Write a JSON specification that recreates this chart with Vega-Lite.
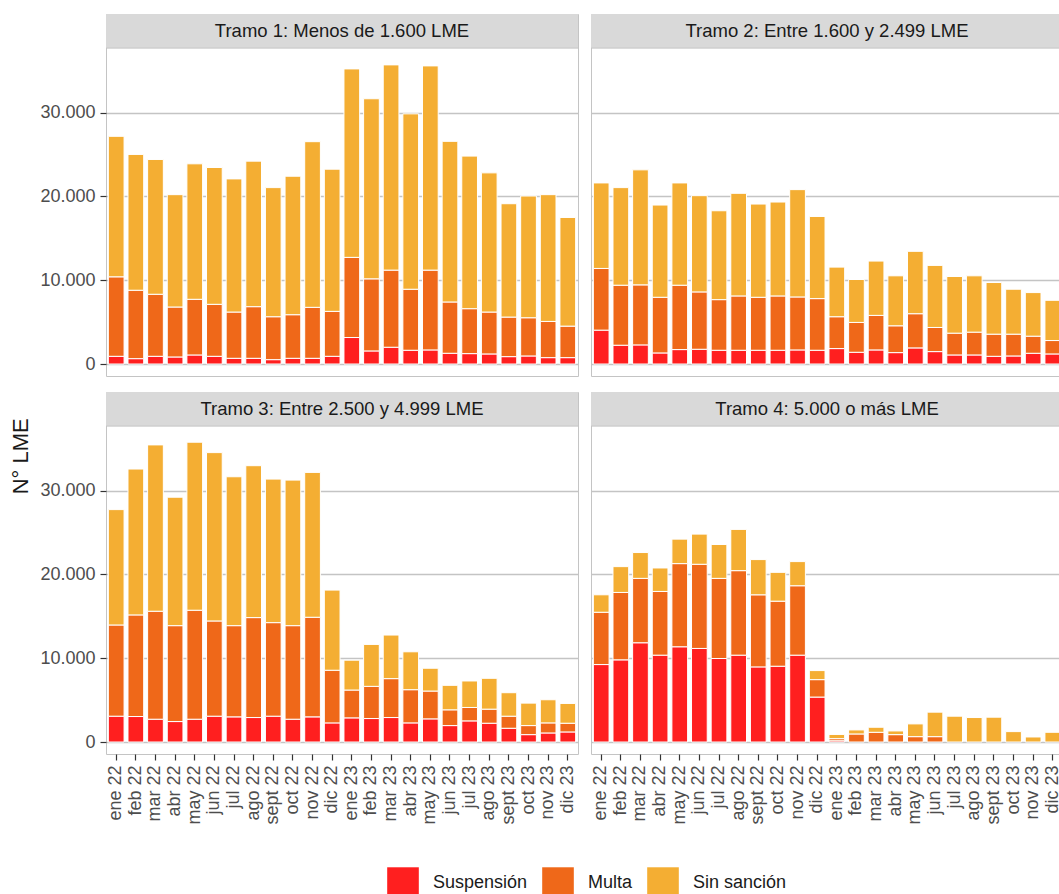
{
  "$schema": "https://vega.github.io/schema/vega-lite/v6.json",
  "padding": {"left": 10, "top": 13, "right": 0, "bottom": 0},
  "title": {"text": "N° LME", "orient": "left", "anchor": "middle", "fontSize": 22, "fontWeight": "normal", "color": "#1a1a1a", "font": "Liberation Sans", "offset": 6},
  "datasets": {
    "lme": [
      {"tramo":"Tramo 1: Menos de 1.600 LME","mes":"ene 22","sancion":"Suspensión","lme":920},
      {"tramo":"Tramo 1: Menos de 1.600 LME","mes":"ene 22","sancion":"Multa","lme":9480},
      {"tramo":"Tramo 1: Menos de 1.600 LME","mes":"ene 22","sancion":"Sin sanción","lme":16760},
      {"tramo":"Tramo 1: Menos de 1.600 LME","mes":"feb 22","sancion":"Suspensión","lme":640},
      {"tramo":"Tramo 1: Menos de 1.600 LME","mes":"feb 22","sancion":"Multa","lme":8160},
      {"tramo":"Tramo 1: Menos de 1.600 LME","mes":"feb 22","sancion":"Sin sanción","lme":16200},
      {"tramo":"Tramo 1: Menos de 1.600 LME","mes":"mar 22","sancion":"Suspensión","lme":920},
      {"tramo":"Tramo 1: Menos de 1.600 LME","mes":"mar 22","sancion":"Multa","lme":7400},
      {"tramo":"Tramo 1: Menos de 1.600 LME","mes":"mar 22","sancion":"Sin sanción","lme":16080},
      {"tramo":"Tramo 1: Menos de 1.600 LME","mes":"abr 22","sancion":"Suspensión","lme":840},
      {"tramo":"Tramo 1: Menos de 1.600 LME","mes":"abr 22","sancion":"Multa","lme":5960},
      {"tramo":"Tramo 1: Menos de 1.600 LME","mes":"abr 22","sancion":"Sin sanción","lme":13400},
      {"tramo":"Tramo 1: Menos de 1.600 LME","mes":"may 22","sancion":"Suspensión","lme":1080},
      {"tramo":"Tramo 1: Menos de 1.600 LME","mes":"may 22","sancion":"Multa","lme":6640},
      {"tramo":"Tramo 1: Menos de 1.600 LME","mes":"may 22","sancion":"Sin sanción","lme":16160},
      {"tramo":"Tramo 1: Menos de 1.600 LME","mes":"jun 22","sancion":"Suspensión","lme":920},
      {"tramo":"Tramo 1: Menos de 1.600 LME","mes":"jun 22","sancion":"Multa","lme":6200},
      {"tramo":"Tramo 1: Menos de 1.600 LME","mes":"jun 22","sancion":"Sin sanción","lme":16320},
      {"tramo":"Tramo 1: Menos de 1.600 LME","mes":"jul 22","sancion":"Suspensión","lme":680},
      {"tramo":"Tramo 1: Menos de 1.600 LME","mes":"jul 22","sancion":"Multa","lme":5520},
      {"tramo":"Tramo 1: Menos de 1.600 LME","mes":"jul 22","sancion":"Sin sanción","lme":15880},
      {"tramo":"Tramo 1: Menos de 1.600 LME","mes":"ago 22","sancion":"Suspensión","lme":680},
      {"tramo":"Tramo 1: Menos de 1.600 LME","mes":"ago 22","sancion":"Multa","lme":6160},
      {"tramo":"Tramo 1: Menos de 1.600 LME","mes":"ago 22","sancion":"Sin sanción","lme":17360},
      {"tramo":"Tramo 1: Menos de 1.600 LME","mes":"sept 22","sancion":"Suspensión","lme":520},
      {"tramo":"Tramo 1: Menos de 1.600 LME","mes":"sept 22","sancion":"Multa","lme":5120},
      {"tramo":"Tramo 1: Menos de 1.600 LME","mes":"sept 22","sancion":"Sin sanción","lme":15400},
      {"tramo":"Tramo 1: Menos de 1.600 LME","mes":"oct 22","sancion":"Suspensión","lme":680},
      {"tramo":"Tramo 1: Menos de 1.600 LME","mes":"oct 22","sancion":"Multa","lme":5200},
      {"tramo":"Tramo 1: Menos de 1.600 LME","mes":"oct 22","sancion":"Sin sanción","lme":16520},
      {"tramo":"Tramo 1: Menos de 1.600 LME","mes":"nov 22","sancion":"Suspensión","lme":680},
      {"tramo":"Tramo 1: Menos de 1.600 LME","mes":"nov 22","sancion":"Multa","lme":6080},
      {"tramo":"Tramo 1: Menos de 1.600 LME","mes":"nov 22","sancion":"Sin sanción","lme":19760},
      {"tramo":"Tramo 1: Menos de 1.600 LME","mes":"dic 22","sancion":"Suspensión","lme":920},
      {"tramo":"Tramo 1: Menos de 1.600 LME","mes":"dic 22","sancion":"Multa","lme":5360},
      {"tramo":"Tramo 1: Menos de 1.600 LME","mes":"dic 22","sancion":"Sin sanción","lme":16960},
      {"tramo":"Tramo 1: Menos de 1.600 LME","mes":"ene 23","sancion":"Suspensión","lme":3160},
      {"tramo":"Tramo 1: Menos de 1.600 LME","mes":"ene 23","sancion":"Multa","lme":9560},
      {"tramo":"Tramo 1: Menos de 1.600 LME","mes":"ene 23","sancion":"Sin sanción","lme":22480},
      {"tramo":"Tramo 1: Menos de 1.600 LME","mes":"feb 23","sancion":"Suspensión","lme":1560},
      {"tramo":"Tramo 1: Menos de 1.600 LME","mes":"feb 23","sancion":"Multa","lme":8600},
      {"tramo":"Tramo 1: Menos de 1.600 LME","mes":"feb 23","sancion":"Sin sanción","lme":21480},
      {"tramo":"Tramo 1: Menos de 1.600 LME","mes":"mar 23","sancion":"Suspensión","lme":2000},
      {"tramo":"Tramo 1: Menos de 1.600 LME","mes":"mar 23","sancion":"Multa","lme":9200},
      {"tramo":"Tramo 1: Menos de 1.600 LME","mes":"mar 23","sancion":"Sin sanción","lme":24480},
      {"tramo":"Tramo 1: Menos de 1.600 LME","mes":"abr 23","sancion":"Suspensión","lme":1640},
      {"tramo":"Tramo 1: Menos de 1.600 LME","mes":"abr 23","sancion":"Multa","lme":7280},
      {"tramo":"Tramo 1: Menos de 1.600 LME","mes":"abr 23","sancion":"Sin sanción","lme":20920},
      {"tramo":"Tramo 1: Menos de 1.600 LME","mes":"may 23","sancion":"Suspensión","lme":1680},
      {"tramo":"Tramo 1: Menos de 1.600 LME","mes":"may 23","sancion":"Multa","lme":9520},
      {"tramo":"Tramo 1: Menos de 1.600 LME","mes":"may 23","sancion":"Sin sanción","lme":24360},
      {"tramo":"Tramo 1: Menos de 1.600 LME","mes":"jun 23","sancion":"Suspensión","lme":1280},
      {"tramo":"Tramo 1: Menos de 1.600 LME","mes":"jun 23","sancion":"Multa","lme":6120},
      {"tramo":"Tramo 1: Menos de 1.600 LME","mes":"jun 23","sancion":"Sin sanción","lme":19160},
      {"tramo":"Tramo 1: Menos de 1.600 LME","mes":"jul 23","sancion":"Suspensión","lme":1240},
      {"tramo":"Tramo 1: Menos de 1.600 LME","mes":"jul 23","sancion":"Multa","lme":5360},
      {"tramo":"Tramo 1: Menos de 1.600 LME","mes":"jul 23","sancion":"Sin sanción","lme":18200},
      {"tramo":"Tramo 1: Menos de 1.600 LME","mes":"ago 23","sancion":"Suspensión","lme":1200},
      {"tramo":"Tramo 1: Menos de 1.600 LME","mes":"ago 23","sancion":"Multa","lme":5000},
      {"tramo":"Tramo 1: Menos de 1.600 LME","mes":"ago 23","sancion":"Sin sanción","lme":16600},
      {"tramo":"Tramo 1: Menos de 1.600 LME","mes":"sept 23","sancion":"Suspensión","lme":880},
      {"tramo":"Tramo 1: Menos de 1.600 LME","mes":"sept 23","sancion":"Multa","lme":4720},
      {"tramo":"Tramo 1: Menos de 1.600 LME","mes":"sept 23","sancion":"Sin sanción","lme":13520},
      {"tramo":"Tramo 1: Menos de 1.600 LME","mes":"oct 23","sancion":"Suspensión","lme":960},
      {"tramo":"Tramo 1: Menos de 1.600 LME","mes":"oct 23","sancion":"Multa","lme":4560},
      {"tramo":"Tramo 1: Menos de 1.600 LME","mes":"oct 23","sancion":"Sin sanción","lme":14520},
      {"tramo":"Tramo 1: Menos de 1.600 LME","mes":"nov 23","sancion":"Suspensión","lme":760},
      {"tramo":"Tramo 1: Menos de 1.600 LME","mes":"nov 23","sancion":"Multa","lme":4320},
      {"tramo":"Tramo 1: Menos de 1.600 LME","mes":"nov 23","sancion":"Sin sanción","lme":15120},
      {"tramo":"Tramo 1: Menos de 1.600 LME","mes":"dic 23","sancion":"Suspensión","lme":760},
      {"tramo":"Tramo 1: Menos de 1.600 LME","mes":"dic 23","sancion":"Multa","lme":3760},
      {"tramo":"Tramo 1: Menos de 1.600 LME","mes":"dic 23","sancion":"Sin sanción","lme":12960},

      {"tramo":"Tramo 2: Entre 1.600 y 2.499 LME","mes":"ene 22","sancion":"Suspensión","lme":4040},
      {"tramo":"Tramo 2: Entre 1.600 y 2.499 LME","mes":"ene 22","sancion":"Multa","lme":7360},
      {"tramo":"Tramo 2: Entre 1.600 y 2.499 LME","mes":"ene 22","sancion":"Sin sanción","lme":10200},
      {"tramo":"Tramo 2: Entre 1.600 y 2.499 LME","mes":"feb 22","sancion":"Suspensión","lme":2240},
      {"tramo":"Tramo 2: Entre 1.600 y 2.499 LME","mes":"feb 22","sancion":"Multa","lme":7160},
      {"tramo":"Tramo 2: Entre 1.600 y 2.499 LME","mes":"feb 22","sancion":"Sin sanción","lme":11640},
      {"tramo":"Tramo 2: Entre 1.600 y 2.499 LME","mes":"mar 22","sancion":"Suspensión","lme":2280},
      {"tramo":"Tramo 2: Entre 1.600 y 2.499 LME","mes":"mar 22","sancion":"Multa","lme":7160},
      {"tramo":"Tramo 2: Entre 1.600 y 2.499 LME","mes":"mar 22","sancion":"Sin sanción","lme":13720},
      {"tramo":"Tramo 2: Entre 1.600 y 2.499 LME","mes":"abr 22","sancion":"Suspensión","lme":1320},
      {"tramo":"Tramo 2: Entre 1.600 y 2.499 LME","mes":"abr 22","sancion":"Multa","lme":6640},
      {"tramo":"Tramo 2: Entre 1.600 y 2.499 LME","mes":"abr 22","sancion":"Sin sanción","lme":11000},
      {"tramo":"Tramo 2: Entre 1.600 y 2.499 LME","mes":"may 22","sancion":"Suspensión","lme":1720},
      {"tramo":"Tramo 2: Entre 1.600 y 2.499 LME","mes":"may 22","sancion":"Multa","lme":7680},
      {"tramo":"Tramo 2: Entre 1.600 y 2.499 LME","mes":"may 22","sancion":"Sin sanción","lme":12200},
      {"tramo":"Tramo 2: Entre 1.600 y 2.499 LME","mes":"jun 22","sancion":"Suspensión","lme":1760},
      {"tramo":"Tramo 2: Entre 1.600 y 2.499 LME","mes":"jun 22","sancion":"Multa","lme":6840},
      {"tramo":"Tramo 2: Entre 1.600 y 2.499 LME","mes":"jun 22","sancion":"Sin sanción","lme":11480},
      {"tramo":"Tramo 2: Entre 1.600 y 2.499 LME","mes":"jul 22","sancion":"Suspensión","lme":1640},
      {"tramo":"Tramo 2: Entre 1.600 y 2.499 LME","mes":"jul 22","sancion":"Multa","lme":6040},
      {"tramo":"Tramo 2: Entre 1.600 y 2.499 LME","mes":"jul 22","sancion":"Sin sanción","lme":10600},
      {"tramo":"Tramo 2: Entre 1.600 y 2.499 LME","mes":"ago 22","sancion":"Suspensión","lme":1640},
      {"tramo":"Tramo 2: Entre 1.600 y 2.499 LME","mes":"ago 22","sancion":"Multa","lme":6480},
      {"tramo":"Tramo 2: Entre 1.600 y 2.499 LME","mes":"ago 22","sancion":"Sin sanción","lme":12240},
      {"tramo":"Tramo 2: Entre 1.600 y 2.499 LME","mes":"sept 22","sancion":"Suspensión","lme":1640},
      {"tramo":"Tramo 2: Entre 1.600 y 2.499 LME","mes":"sept 22","sancion":"Multa","lme":6320},
      {"tramo":"Tramo 2: Entre 1.600 y 2.499 LME","mes":"sept 22","sancion":"Sin sanción","lme":11120},
      {"tramo":"Tramo 2: Entre 1.600 y 2.499 LME","mes":"oct 22","sancion":"Suspensión","lme":1640},
      {"tramo":"Tramo 2: Entre 1.600 y 2.499 LME","mes":"oct 22","sancion":"Multa","lme":6480},
      {"tramo":"Tramo 2: Entre 1.600 y 2.499 LME","mes":"oct 22","sancion":"Sin sanción","lme":11200},
      {"tramo":"Tramo 2: Entre 1.600 y 2.499 LME","mes":"nov 22","sancion":"Suspensión","lme":1680},
      {"tramo":"Tramo 2: Entre 1.600 y 2.499 LME","mes":"nov 22","sancion":"Multa","lme":6320},
      {"tramo":"Tramo 2: Entre 1.600 y 2.499 LME","mes":"nov 22","sancion":"Sin sanción","lme":12800},
      {"tramo":"Tramo 2: Entre 1.600 y 2.499 LME","mes":"dic 22","sancion":"Suspensión","lme":1640},
      {"tramo":"Tramo 2: Entre 1.600 y 2.499 LME","mes":"dic 22","sancion":"Multa","lme":6160},
      {"tramo":"Tramo 2: Entre 1.600 y 2.499 LME","mes":"dic 22","sancion":"Sin sanción","lme":9800},
      {"tramo":"Tramo 2: Entre 1.600 y 2.499 LME","mes":"ene 23","sancion":"Suspensión","lme":1840},
      {"tramo":"Tramo 2: Entre 1.600 y 2.499 LME","mes":"ene 23","sancion":"Multa","lme":3800},
      {"tramo":"Tramo 2: Entre 1.600 y 2.499 LME","mes":"ene 23","sancion":"Sin sanción","lme":5920},
      {"tramo":"Tramo 2: Entre 1.600 y 2.499 LME","mes":"feb 23","sancion":"Suspensión","lme":1400},
      {"tramo":"Tramo 2: Entre 1.600 y 2.499 LME","mes":"feb 23","sancion":"Multa","lme":3560},
      {"tramo":"Tramo 2: Entre 1.600 y 2.499 LME","mes":"feb 23","sancion":"Sin sanción","lme":5120},
      {"tramo":"Tramo 2: Entre 1.600 y 2.499 LME","mes":"mar 23","sancion":"Suspensión","lme":1680},
      {"tramo":"Tramo 2: Entre 1.600 y 2.499 LME","mes":"mar 23","sancion":"Multa","lme":4120},
      {"tramo":"Tramo 2: Entre 1.600 y 2.499 LME","mes":"mar 23","sancion":"Sin sanción","lme":6480},
      {"tramo":"Tramo 2: Entre 1.600 y 2.499 LME","mes":"abr 23","sancion":"Suspensión","lme":1360},
      {"tramo":"Tramo 2: Entre 1.600 y 2.499 LME","mes":"abr 23","sancion":"Multa","lme":3200},
      {"tramo":"Tramo 2: Entre 1.600 y 2.499 LME","mes":"abr 23","sancion":"Sin sanción","lme":5960},
      {"tramo":"Tramo 2: Entre 1.600 y 2.499 LME","mes":"may 23","sancion":"Suspensión","lme":1920},
      {"tramo":"Tramo 2: Entre 1.600 y 2.499 LME","mes":"may 23","sancion":"Multa","lme":4080},
      {"tramo":"Tramo 2: Entre 1.600 y 2.499 LME","mes":"may 23","sancion":"Sin sanción","lme":7440},
      {"tramo":"Tramo 2: Entre 1.600 y 2.499 LME","mes":"jun 23","sancion":"Suspensión","lme":1480},
      {"tramo":"Tramo 2: Entre 1.600 y 2.499 LME","mes":"jun 23","sancion":"Multa","lme":2880},
      {"tramo":"Tramo 2: Entre 1.600 y 2.499 LME","mes":"jun 23","sancion":"Sin sanción","lme":7400},
      {"tramo":"Tramo 2: Entre 1.600 y 2.499 LME","mes":"jul 23","sancion":"Suspensión","lme":1080},
      {"tramo":"Tramo 2: Entre 1.600 y 2.499 LME","mes":"jul 23","sancion":"Multa","lme":2600},
      {"tramo":"Tramo 2: Entre 1.600 y 2.499 LME","mes":"jul 23","sancion":"Sin sanción","lme":6760},
      {"tramo":"Tramo 2: Entre 1.600 y 2.499 LME","mes":"ago 23","sancion":"Suspensión","lme":1080},
      {"tramo":"Tramo 2: Entre 1.600 y 2.499 LME","mes":"ago 23","sancion":"Multa","lme":2720},
      {"tramo":"Tramo 2: Entre 1.600 y 2.499 LME","mes":"ago 23","sancion":"Sin sanción","lme":6720},
      {"tramo":"Tramo 2: Entre 1.600 y 2.499 LME","mes":"sept 23","sancion":"Suspensión","lme":920},
      {"tramo":"Tramo 2: Entre 1.600 y 2.499 LME","mes":"sept 23","sancion":"Multa","lme":2640},
      {"tramo":"Tramo 2: Entre 1.600 y 2.499 LME","mes":"sept 23","sancion":"Sin sanción","lme":6160},
      {"tramo":"Tramo 2: Entre 1.600 y 2.499 LME","mes":"oct 23","sancion":"Suspensión","lme":960},
      {"tramo":"Tramo 2: Entre 1.600 y 2.499 LME","mes":"oct 23","sancion":"Multa","lme":2600},
      {"tramo":"Tramo 2: Entre 1.600 y 2.499 LME","mes":"oct 23","sancion":"Sin sanción","lme":5360},
      {"tramo":"Tramo 2: Entre 1.600 y 2.499 LME","mes":"nov 23","sancion":"Suspensión","lme":1280},
      {"tramo":"Tramo 2: Entre 1.600 y 2.499 LME","mes":"nov 23","sancion":"Multa","lme":2040},
      {"tramo":"Tramo 2: Entre 1.600 y 2.499 LME","mes":"nov 23","sancion":"Sin sanción","lme":5200},
      {"tramo":"Tramo 2: Entre 1.600 y 2.499 LME","mes":"dic 23","sancion":"Suspensión","lme":1200},
      {"tramo":"Tramo 2: Entre 1.600 y 2.499 LME","mes":"dic 23","sancion":"Multa","lme":1600},
      {"tramo":"Tramo 2: Entre 1.600 y 2.499 LME","mes":"dic 23","sancion":"Sin sanción","lme":4800},

      {"tramo":"Tramo 3: Entre 2.500 y 4.999 LME","mes":"ene 22","sancion":"Suspensión","lme":3080},
      {"tramo":"Tramo 3: Entre 2.500 y 4.999 LME","mes":"ene 22","sancion":"Multa","lme":10880},
      {"tramo":"Tramo 3: Entre 2.500 y 4.999 LME","mes":"ene 22","sancion":"Sin sanción","lme":13760},
      {"tramo":"Tramo 3: Entre 2.500 y 4.999 LME","mes":"feb 22","sancion":"Suspensión","lme":3040},
      {"tramo":"Tramo 3: Entre 2.500 y 4.999 LME","mes":"feb 22","sancion":"Multa","lme":12120},
      {"tramo":"Tramo 3: Entre 2.500 y 4.999 LME","mes":"feb 22","sancion":"Sin sanción","lme":17400},
      {"tramo":"Tramo 3: Entre 2.500 y 4.999 LME","mes":"mar 22","sancion":"Suspensión","lme":2720},
      {"tramo":"Tramo 3: Entre 2.500 y 4.999 LME","mes":"mar 22","sancion":"Multa","lme":12880},
      {"tramo":"Tramo 3: Entre 2.500 y 4.999 LME","mes":"mar 22","sancion":"Sin sanción","lme":19840},
      {"tramo":"Tramo 3: Entre 2.500 y 4.999 LME","mes":"abr 22","sancion":"Suspensión","lme":2440},
      {"tramo":"Tramo 3: Entre 2.500 y 4.999 LME","mes":"abr 22","sancion":"Multa","lme":11440},
      {"tramo":"Tramo 3: Entre 2.500 y 4.999 LME","mes":"abr 22","sancion":"Sin sanción","lme":15320},
      {"tramo":"Tramo 3: Entre 2.500 y 4.999 LME","mes":"may 22","sancion":"Suspensión","lme":2720},
      {"tramo":"Tramo 3: Entre 2.500 y 4.999 LME","mes":"may 22","sancion":"Multa","lme":13000},
      {"tramo":"Tramo 3: Entre 2.500 y 4.999 LME","mes":"may 22","sancion":"Sin sanción","lme":20040},
      {"tramo":"Tramo 3: Entre 2.500 y 4.999 LME","mes":"jun 22","sancion":"Suspensión","lme":3080},
      {"tramo":"Tramo 3: Entre 2.500 y 4.999 LME","mes":"jun 22","sancion":"Multa","lme":11360},
      {"tramo":"Tramo 3: Entre 2.500 y 4.999 LME","mes":"jun 22","sancion":"Sin sanción","lme":20080},
      {"tramo":"Tramo 3: Entre 2.500 y 4.999 LME","mes":"jul 22","sancion":"Suspensión","lme":3000},
      {"tramo":"Tramo 3: Entre 2.500 y 4.999 LME","mes":"jul 22","sancion":"Multa","lme":10880},
      {"tramo":"Tramo 3: Entre 2.500 y 4.999 LME","mes":"jul 22","sancion":"Sin sanción","lme":17760},
      {"tramo":"Tramo 3: Entre 2.500 y 4.999 LME","mes":"ago 22","sancion":"Suspensión","lme":2920},
      {"tramo":"Tramo 3: Entre 2.500 y 4.999 LME","mes":"ago 22","sancion":"Multa","lme":11920},
      {"tramo":"Tramo 3: Entre 2.500 y 4.999 LME","mes":"ago 22","sancion":"Sin sanción","lme":18120},
      {"tramo":"Tramo 3: Entre 2.500 y 4.999 LME","mes":"sept 22","sancion":"Suspensión","lme":3080},
      {"tramo":"Tramo 3: Entre 2.500 y 4.999 LME","mes":"sept 22","sancion":"Multa","lme":11160},
      {"tramo":"Tramo 3: Entre 2.500 y 4.999 LME","mes":"sept 22","sancion":"Sin sanción","lme":17120},
      {"tramo":"Tramo 3: Entre 2.500 y 4.999 LME","mes":"oct 22","sancion":"Suspensión","lme":2720},
      {"tramo":"Tramo 3: Entre 2.500 y 4.999 LME","mes":"oct 22","sancion":"Multa","lme":11160},
      {"tramo":"Tramo 3: Entre 2.500 y 4.999 LME","mes":"oct 22","sancion":"Sin sanción","lme":17360},
      {"tramo":"Tramo 3: Entre 2.500 y 4.999 LME","mes":"nov 22","sancion":"Suspensión","lme":3000},
      {"tramo":"Tramo 3: Entre 2.500 y 4.999 LME","mes":"nov 22","sancion":"Multa","lme":11880},
      {"tramo":"Tramo 3: Entre 2.500 y 4.999 LME","mes":"nov 22","sancion":"Sin sanción","lme":17280},
      {"tramo":"Tramo 3: Entre 2.500 y 4.999 LME","mes":"dic 22","sancion":"Suspensión","lme":2280},
      {"tramo":"Tramo 3: Entre 2.500 y 4.999 LME","mes":"dic 22","sancion":"Multa","lme":6280},
      {"tramo":"Tramo 3: Entre 2.500 y 4.999 LME","mes":"dic 22","sancion":"Sin sanción","lme":9560},
      {"tramo":"Tramo 3: Entre 2.500 y 4.999 LME","mes":"ene 23","sancion":"Suspensión","lme":2880},
      {"tramo":"Tramo 3: Entre 2.500 y 4.999 LME","mes":"ene 23","sancion":"Multa","lme":3320},
      {"tramo":"Tramo 3: Entre 2.500 y 4.999 LME","mes":"ene 23","sancion":"Sin sanción","lme":3560},
      {"tramo":"Tramo 3: Entre 2.500 y 4.999 LME","mes":"feb 23","sancion":"Suspensión","lme":2800},
      {"tramo":"Tramo 3: Entre 2.500 y 4.999 LME","mes":"feb 23","sancion":"Multa","lme":3840},
      {"tramo":"Tramo 3: Entre 2.500 y 4.999 LME","mes":"feb 23","sancion":"Sin sanción","lme":5000},
      {"tramo":"Tramo 3: Entre 2.500 y 4.999 LME","mes":"mar 23","sancion":"Suspensión","lme":2920},
      {"tramo":"Tramo 3: Entre 2.500 y 4.999 LME","mes":"mar 23","sancion":"Multa","lme":4640},
      {"tramo":"Tramo 3: Entre 2.500 y 4.999 LME","mes":"mar 23","sancion":"Sin sanción","lme":5200},
      {"tramo":"Tramo 3: Entre 2.500 y 4.999 LME","mes":"abr 23","sancion":"Suspensión","lme":2280},
      {"tramo":"Tramo 3: Entre 2.500 y 4.999 LME","mes":"abr 23","sancion":"Multa","lme":3960},
      {"tramo":"Tramo 3: Entre 2.500 y 4.999 LME","mes":"abr 23","sancion":"Sin sanción","lme":4520},
      {"tramo":"Tramo 3: Entre 2.500 y 4.999 LME","mes":"may 23","sancion":"Suspensión","lme":2760},
      {"tramo":"Tramo 3: Entre 2.500 y 4.999 LME","mes":"may 23","sancion":"Multa","lme":3320},
      {"tramo":"Tramo 3: Entre 2.500 y 4.999 LME","mes":"may 23","sancion":"Sin sanción","lme":2720},
      {"tramo":"Tramo 3: Entre 2.500 y 4.999 LME","mes":"jun 23","sancion":"Suspensión","lme":1960},
      {"tramo":"Tramo 3: Entre 2.500 y 4.999 LME","mes":"jun 23","sancion":"Multa","lme":1880},
      {"tramo":"Tramo 3: Entre 2.500 y 4.999 LME","mes":"jun 23","sancion":"Sin sanción","lme":2920},
      {"tramo":"Tramo 3: Entre 2.500 y 4.999 LME","mes":"jul 23","sancion":"Suspensión","lme":2520},
      {"tramo":"Tramo 3: Entre 2.500 y 4.999 LME","mes":"jul 23","sancion":"Multa","lme":1600},
      {"tramo":"Tramo 3: Entre 2.500 y 4.999 LME","mes":"jul 23","sancion":"Sin sanción","lme":3160},
      {"tramo":"Tramo 3: Entre 2.500 y 4.999 LME","mes":"ago 23","sancion":"Suspensión","lme":2240},
      {"tramo":"Tramo 3: Entre 2.500 y 4.999 LME","mes":"ago 23","sancion":"Multa","lme":1680},
      {"tramo":"Tramo 3: Entre 2.500 y 4.999 LME","mes":"ago 23","sancion":"Sin sanción","lme":3680},
      {"tramo":"Tramo 3: Entre 2.500 y 4.999 LME","mes":"sept 23","sancion":"Suspensión","lme":1640},
      {"tramo":"Tramo 3: Entre 2.500 y 4.999 LME","mes":"sept 23","sancion":"Multa","lme":1440},
      {"tramo":"Tramo 3: Entre 2.500 y 4.999 LME","mes":"sept 23","sancion":"Sin sanción","lme":2800},
      {"tramo":"Tramo 3: Entre 2.500 y 4.999 LME","mes":"oct 23","sancion":"Suspensión","lme":880},
      {"tramo":"Tramo 3: Entre 2.500 y 4.999 LME","mes":"oct 23","sancion":"Multa","lme":1080},
      {"tramo":"Tramo 3: Entre 2.500 y 4.999 LME","mes":"oct 23","sancion":"Sin sanción","lme":2680},
      {"tramo":"Tramo 3: Entre 2.500 y 4.999 LME","mes":"nov 23","sancion":"Suspensión","lme":1080},
      {"tramo":"Tramo 3: Entre 2.500 y 4.999 LME","mes":"nov 23","sancion":"Multa","lme":1200},
      {"tramo":"Tramo 3: Entre 2.500 y 4.999 LME","mes":"nov 23","sancion":"Sin sanción","lme":2760},
      {"tramo":"Tramo 3: Entre 2.500 y 4.999 LME","mes":"dic 23","sancion":"Suspensión","lme":1200},
      {"tramo":"Tramo 3: Entre 2.500 y 4.999 LME","mes":"dic 23","sancion":"Multa","lme":1040},
      {"tramo":"Tramo 3: Entre 2.500 y 4.999 LME","mes":"dic 23","sancion":"Sin sanción","lme":2360},

      {"tramo":"Tramo 4: 5.000 o más LME","mes":"ene 22","sancion":"Suspensión","lme":9240},
      {"tramo":"Tramo 4: 5.000 o más LME","mes":"ene 22","sancion":"Multa","lme":6240},
      {"tramo":"Tramo 4: 5.000 o más LME","mes":"ene 22","sancion":"Sin sanción","lme":2080},
      {"tramo":"Tramo 4: 5.000 o más LME","mes":"feb 22","sancion":"Suspensión","lme":9800},
      {"tramo":"Tramo 4: 5.000 o más LME","mes":"feb 22","sancion":"Multa","lme":8040},
      {"tramo":"Tramo 4: 5.000 o más LME","mes":"feb 22","sancion":"Sin sanción","lme":3080},
      {"tramo":"Tramo 4: 5.000 o más LME","mes":"mar 22","sancion":"Suspensión","lme":11840},
      {"tramo":"Tramo 4: 5.000 o más LME","mes":"mar 22","sancion":"Multa","lme":7680},
      {"tramo":"Tramo 4: 5.000 o más LME","mes":"mar 22","sancion":"Sin sanción","lme":3080},
      {"tramo":"Tramo 4: 5.000 o más LME","mes":"abr 22","sancion":"Suspensión","lme":10360},
      {"tramo":"Tramo 4: 5.000 o más LME","mes":"abr 22","sancion":"Multa","lme":7600},
      {"tramo":"Tramo 4: 5.000 o más LME","mes":"abr 22","sancion":"Sin sanción","lme":2800},
      {"tramo":"Tramo 4: 5.000 o más LME","mes":"may 22","sancion":"Suspensión","lme":11360},
      {"tramo":"Tramo 4: 5.000 o más LME","mes":"may 22","sancion":"Multa","lme":9920},
      {"tramo":"Tramo 4: 5.000 o más LME","mes":"may 22","sancion":"Sin sanción","lme":2920},
      {"tramo":"Tramo 4: 5.000 o más LME","mes":"jun 22","sancion":"Suspensión","lme":11160},
      {"tramo":"Tramo 4: 5.000 o más LME","mes":"jun 22","sancion":"Multa","lme":10040},
      {"tramo":"Tramo 4: 5.000 o más LME","mes":"jun 22","sancion":"Sin sanción","lme":3600},
      {"tramo":"Tramo 4: 5.000 o más LME","mes":"jul 22","sancion":"Suspensión","lme":9960},
      {"tramo":"Tramo 4: 5.000 o más LME","mes":"jul 22","sancion":"Multa","lme":9560},
      {"tramo":"Tramo 4: 5.000 o más LME","mes":"jul 22","sancion":"Sin sanción","lme":4040},
      {"tramo":"Tramo 4: 5.000 o más LME","mes":"ago 22","sancion":"Suspensión","lme":10360},
      {"tramo":"Tramo 4: 5.000 o más LME","mes":"ago 22","sancion":"Multa","lme":10080},
      {"tramo":"Tramo 4: 5.000 o más LME","mes":"ago 22","sancion":"Sin sanción","lme":4920},
      {"tramo":"Tramo 4: 5.000 o más LME","mes":"sept 22","sancion":"Suspensión","lme":8960},
      {"tramo":"Tramo 4: 5.000 o más LME","mes":"sept 22","sancion":"Multa","lme":8600},
      {"tramo":"Tramo 4: 5.000 o más LME","mes":"sept 22","sancion":"Sin sanción","lme":4200},
      {"tramo":"Tramo 4: 5.000 o más LME","mes":"oct 22","sancion":"Suspensión","lme":9040},
      {"tramo":"Tramo 4: 5.000 o más LME","mes":"oct 22","sancion":"Multa","lme":7760},
      {"tramo":"Tramo 4: 5.000 o más LME","mes":"oct 22","sancion":"Sin sanción","lme":3440},
      {"tramo":"Tramo 4: 5.000 o más LME","mes":"nov 22","sancion":"Suspensión","lme":10360},
      {"tramo":"Tramo 4: 5.000 o más LME","mes":"nov 22","sancion":"Multa","lme":8280},
      {"tramo":"Tramo 4: 5.000 o más LME","mes":"nov 22","sancion":"Sin sanción","lme":2880},
      {"tramo":"Tramo 4: 5.000 o más LME","mes":"dic 22","sancion":"Suspensión","lme":5360},
      {"tramo":"Tramo 4: 5.000 o más LME","mes":"dic 22","sancion":"Multa","lme":2080},
      {"tramo":"Tramo 4: 5.000 o más LME","mes":"dic 22","sancion":"Sin sanción","lme":1080},
      {"tramo":"Tramo 4: 5.000 o más LME","mes":"ene 23","sancion":"Suspensión","lme":150},
      {"tramo":"Tramo 4: 5.000 o más LME","mes":"ene 23","sancion":"Multa","lme":250},
      {"tramo":"Tramo 4: 5.000 o más LME","mes":"ene 23","sancion":"Sin sanción","lme":500},
      {"tramo":"Tramo 4: 5.000 o más LME","mes":"feb 23","sancion":"Multa","lme":960},
      {"tramo":"Tramo 4: 5.000 o más LME","mes":"feb 23","sancion":"Sin sanción","lme":480},
      {"tramo":"Tramo 4: 5.000 o más LME","mes":"mar 23","sancion":"Multa","lme":1160},
      {"tramo":"Tramo 4: 5.000 o más LME","mes":"mar 23","sancion":"Sin sanción","lme":600},
      {"tramo":"Tramo 4: 5.000 o más LME","mes":"abr 23","sancion":"Multa","lme":880},
      {"tramo":"Tramo 4: 5.000 o más LME","mes":"abr 23","sancion":"Sin sanción","lme":440},
      {"tramo":"Tramo 4: 5.000 o más LME","mes":"may 23","sancion":"Multa","lme":640},
      {"tramo":"Tramo 4: 5.000 o más LME","mes":"may 23","sancion":"Sin sanción","lme":1520},
      {"tramo":"Tramo 4: 5.000 o más LME","mes":"jun 23","sancion":"Multa","lme":640},
      {"tramo":"Tramo 4: 5.000 o más LME","mes":"jun 23","sancion":"Sin sanción","lme":2920},
      {"tramo":"Tramo 4: 5.000 o más LME","mes":"jul 23","sancion":"Sin sanción","lme":3080},
      {"tramo":"Tramo 4: 5.000 o más LME","mes":"ago 23","sancion":"Sin sanción","lme":2920},
      {"tramo":"Tramo 4: 5.000 o más LME","mes":"sept 23","sancion":"Sin sanción","lme":2960},
      {"tramo":"Tramo 4: 5.000 o más LME","mes":"oct 23","sancion":"Sin sanción","lme":1240},
      {"tramo":"Tramo 4: 5.000 o más LME","mes":"nov 23","sancion":"Sin sanción","lme":600},
      {"tramo":"Tramo 4: 5.000 o más LME","mes":"dic 23","sancion":"Sin sanción","lme":1160}
    ]
  },
  "data": {"name": "lme"},
  "columns": 2,
  "spacing": {"row": 14, "column": 11},
  "concat": [
    {
      "width": 472, "height": 362,
      "transform": [{"filter": "datum.tramo === 'Tramo 1: Menos de 1.600 LME'"}],
      "layer": [
        {
          "transform": [{"calculate": "indexof(['Suspensión','Multa','Sin sanción'], datum.sancion)", "as": "orden"}],
          "mark": {"type": "bar", "stroke": "white", "strokeWidth": 1},
          "encoding": {
            "x": {"field": "mes", "type": "nominal", "sort": null, "title": null, "scale": {"paddingInner": 0.2, "paddingOuter": 0.12},
                  "axis": {"labels": false, "ticks": false, "domain": false, "grid": false}},
            "y": {"field": "lme", "type": "quantitative", "stack": "zero", "title": null, "scale": {"domain": [-1430, 41750], "nice": false, "zero": false},
                  "axis": {"values": [0, 10000, 20000, 30000], "labelExpr": "replace(format(datum.value, ','), ',', '.')"}},
            "color": {"field": "sancion", "type": "nominal", "title": null, "sort": ["Suspensión", "Multa", "Sin sanción"],
                      "scale": {"domain": ["Suspensión", "Multa", "Sin sanción"], "range": ["#FF1F1F", "#EF6819", "#F4AE33"]}},
            "order": {"field": "orden", "type": "quantitative", "sort": "ascending"}
          }
        },
        {
          "transform": [{"aggregate": [{"op": "count", "as": "n"}], "groupby": ["tramo"]}],
          "layer": [
            {"mark": {"type": "rect", "color": "#d9d9d9"}, "encoding": {"y": {"datum": 37680, "type": "quantitative"}, "y2": {"datum": 41750}}},
            {"mark": {"type": "rule", "color": "#c4c4c4", "strokeWidth": 1}, "encoding": {"y": {"datum": 37680, "type": "quantitative"}}},
            {"mark": {"type": "text", "fontSize": 18.5, "color": "#1a1a1a", "baseline": "middle"}, "encoding": {"y": {"datum": 39715, "type": "quantitative"}, "text": {"field": "tramo"}}}
          ]
        }
      ]
    },
    {
      "width": 472, "height": 362,
      "transform": [{"filter": "datum.tramo === 'Tramo 2: Entre 1.600 y 2.499 LME'"}],
      "layer": [
        {
          "transform": [{"calculate": "indexof(['Suspensión','Multa','Sin sanción'], datum.sancion)", "as": "orden"}],
          "mark": {"type": "bar", "stroke": "white", "strokeWidth": 1},
          "encoding": {
            "x": {"field": "mes", "type": "nominal", "sort": null, "title": null, "scale": {"paddingInner": 0.2, "paddingOuter": 0.12},
                  "axis": {"labels": false, "ticks": false, "domain": false, "grid": false}},
            "y": {"field": "lme", "type": "quantitative", "stack": "zero", "title": null, "scale": {"domain": [-1430, 41750], "nice": false, "zero": false},
                  "axis": {"values": [0, 10000, 20000, 30000], "labels": false, "ticks": false}},
            "color": {"field": "sancion", "type": "nominal", "title": null, "sort": ["Suspensión", "Multa", "Sin sanción"],
                      "scale": {"domain": ["Suspensión", "Multa", "Sin sanción"], "range": ["#FF1F1F", "#EF6819", "#F4AE33"]}},
            "order": {"field": "orden", "type": "quantitative", "sort": "ascending"}
          }
        },
        {
          "transform": [{"aggregate": [{"op": "count", "as": "n"}], "groupby": ["tramo"]}],
          "layer": [
            {"mark": {"type": "rect", "color": "#d9d9d9"}, "encoding": {"y": {"datum": 37680, "type": "quantitative"}, "y2": {"datum": 41750}}},
            {"mark": {"type": "rule", "color": "#c4c4c4", "strokeWidth": 1}, "encoding": {"y": {"datum": 37680, "type": "quantitative"}}},
            {"mark": {"type": "text", "fontSize": 18.5, "color": "#1a1a1a", "baseline": "middle"}, "encoding": {"y": {"datum": 39715, "type": "quantitative"}, "text": {"field": "tramo"}}}
          ]
        }
      ]
    },
    {
      "width": 472, "height": 362,
      "transform": [{"filter": "datum.tramo === 'Tramo 3: Entre 2.500 y 4.999 LME'"}],
      "layer": [
        {
          "transform": [{"calculate": "indexof(['Suspensión','Multa','Sin sanción'], datum.sancion)", "as": "orden"}],
          "mark": {"type": "bar", "stroke": "white", "strokeWidth": 1},
          "encoding": {
            "x": {"field": "mes", "type": "nominal", "sort": null, "title": null, "scale": {"paddingInner": 0.2, "paddingOuter": 0.12}},
            "y": {"field": "lme", "type": "quantitative", "stack": "zero", "title": null, "scale": {"domain": [-1430, 41750], "nice": false, "zero": false},
                  "axis": {"values": [0, 10000, 20000, 30000], "labelExpr": "replace(format(datum.value, ','), ',', '.')"}},
            "color": {"field": "sancion", "type": "nominal", "title": null, "sort": ["Suspensión", "Multa", "Sin sanción"],
                      "scale": {"domain": ["Suspensión", "Multa", "Sin sanción"], "range": ["#FF1F1F", "#EF6819", "#F4AE33"]}},
            "order": {"field": "orden", "type": "quantitative", "sort": "ascending"}
          }
        },
        {
          "transform": [{"aggregate": [{"op": "count", "as": "n"}], "groupby": ["tramo"]}],
          "layer": [
            {"mark": {"type": "rect", "color": "#d9d9d9"}, "encoding": {"y": {"datum": 37680, "type": "quantitative"}, "y2": {"datum": 41750}}},
            {"mark": {"type": "rule", "color": "#c4c4c4", "strokeWidth": 1}, "encoding": {"y": {"datum": 37680, "type": "quantitative"}}},
            {"mark": {"type": "text", "fontSize": 18.5, "color": "#1a1a1a", "baseline": "middle"}, "encoding": {"y": {"datum": 39715, "type": "quantitative"}, "text": {"field": "tramo"}}}
          ]
        }
      ]
    },
    {
      "width": 472, "height": 362,
      "transform": [{"filter": "datum.tramo === 'Tramo 4: 5.000 o más LME'"}],
      "layer": [
        {
          "transform": [{"calculate": "indexof(['Suspensión','Multa','Sin sanción'], datum.sancion)", "as": "orden"}],
          "mark": {"type": "bar", "stroke": "white", "strokeWidth": 1},
          "encoding": {
            "x": {"field": "mes", "type": "nominal", "sort": null, "title": null, "scale": {"paddingInner": 0.2, "paddingOuter": 0.12}},
            "y": {"field": "lme", "type": "quantitative", "stack": "zero", "title": null, "scale": {"domain": [-1430, 41750], "nice": false, "zero": false},
                  "axis": {"values": [0, 10000, 20000, 30000], "labels": false, "ticks": false}},
            "color": {"field": "sancion", "type": "nominal", "title": null, "sort": ["Suspensión", "Multa", "Sin sanción"],
                      "scale": {"domain": ["Suspensión", "Multa", "Sin sanción"], "range": ["#FF1F1F", "#EF6819", "#F4AE33"]},
                      "legend": {"orient": "none", "legendX": 281, "legendY": 853, "direction": "horizontal", "symbolType": "square", "symbolSize": 1000, "symbolStrokeWidth": 0, "labelFontSize": 18, "labelColor": "#1a1a1a", "labelOffset": 14, "columnPadding": 14, "symbolOpacity": 1}},
            "order": {"field": "orden", "type": "quantitative", "sort": "ascending"}
          }
        },
        {
          "transform": [{"aggregate": [{"op": "count", "as": "n"}], "groupby": ["tramo"]}],
          "layer": [
            {"mark": {"type": "rect", "color": "#d9d9d9"}, "encoding": {"y": {"datum": 37680, "type": "quantitative"}, "y2": {"datum": 41750}}},
            {"mark": {"type": "rule", "color": "#c4c4c4", "strokeWidth": 1}, "encoding": {"y": {"datum": 37680, "type": "quantitative"}}},
            {"mark": {"type": "text", "fontSize": 18.5, "color": "#1a1a1a", "baseline": "middle"}, "encoding": {"y": {"datum": 39715, "type": "quantitative"}, "text": {"field": "tramo"}}}
          ]
        }
      ]
    }
  ],
  "config": {
    "font": "Liberation Sans",
    "view": {"stroke": "#c4c4c4", "strokeWidth": 1},
    "axis": {"domain": false, "tickColor": "#333333", "tickSize": 6, "tickWidth": 1.2, "labelFontSize": 18, "labelColor": "#4d4d4d", "labelPadding": 5},
    "axisX": {"labelAngle": -90, "labelAlign": "right", "labelBaseline": "middle", "grid": false},
    "axisY": {"gridColor": "#c4c4c4", "gridWidth": 1.5}
  }
}
